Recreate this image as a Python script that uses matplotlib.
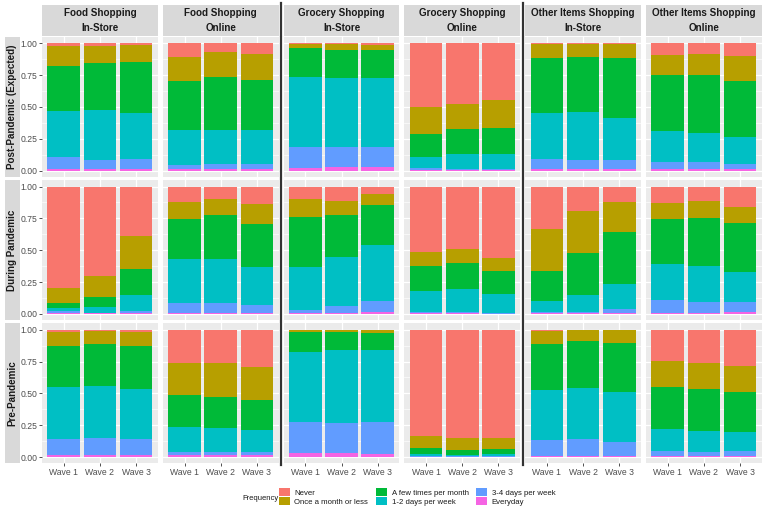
import matplotlib
matplotlib.use('Agg')
import matplotlib.pyplot as plt
from matplotlib.patches import Patch
from matplotlib.lines import Line2D
import numpy as np

plt.rcParams['font.family'] = ['Liberation Sans', 'DejaVu Sans']

# ---------------- data ----------------
waves = ['Wave 1', 'Wave 2', 'Wave 3']
# stacking order, bottom -> top
frequencies = ['Everyday', '3-4 days per week', '1-2 days per week',
               'A few times per month', 'Once a month or less', 'Never']
freq_colors = ['#F564E3', '#619CFF', '#00BFC4', '#00BA38', '#B79F00', '#F8766D']
legend_order = ['Never', 'Once a month or less', 'A few times per month',
                '1-2 days per week', '3-4 days per week', 'Everyday']

col_titles = ['Food Shopping\nIn-Store', 'Food Shopping\nOnline',
              'Grocery Shopping\nIn-Store', 'Grocery Shopping\nOnline',
              'Other Items Shopping\nIn-Store', 'Other Items Shopping\nOnline']
row_titles = ['Post-Pandemic (Expected)', 'During Pandemic', 'Pre-Pandemic']
y_ticks = [0.0, 0.25, 0.5, 0.75, 1.0]
y_tick_labels = ['0.00', '0.25', '0.50', '0.75', '1.00']

# shares per wave, in stacking order (Everyday ... Never)
post_food_instore = [[0.013, 0.095, 0.358, 0.355, 0.158, 0.021],
                     [0.013, 0.074, 0.387, 0.371, 0.134, 0.021],
                     [0.015, 0.080, 0.360, 0.398, 0.137, 0.010]]
post_food_online = [[0.010, 0.037, 0.269, 0.389, 0.187, 0.108],
                    [0.010, 0.040, 0.271, 0.416, 0.192, 0.071],
                    [0.010, 0.040, 0.271, 0.392, 0.200, 0.087]]
post_grocery_instore = [[0.021, 0.166, 0.547, 0.229, 0.032, 0.005],
                        [0.029, 0.158, 0.542, 0.221, 0.045, 0.005],
                        [0.029, 0.158, 0.542, 0.221, 0.040, 0.010]]
post_grocery_online = [[0.005, 0.013, 0.092, 0.179, 0.211, 0.500],
                       [0.005, 0.011, 0.113, 0.200, 0.197, 0.474],
                       [0.005, 0.011, 0.113, 0.205, 0.219, 0.447]]
post_other_instore = [[0.016, 0.076, 0.358, 0.432, 0.113, 0.005],
                      [0.016, 0.068, 0.379, 0.426, 0.106, 0.005],
                      [0.016, 0.066, 0.334, 0.466, 0.113, 0.005]]
post_other_online = [[0.013, 0.058, 0.240, 0.442, 0.158, 0.089],
                     [0.013, 0.055, 0.227, 0.458, 0.160, 0.087],
                     [0.013, 0.037, 0.213, 0.442, 0.195, 0.100]]

during_food_instore = [[0.010, 0.010, 0.028, 0.037, 0.121, 0.794],
                       [0.005, 0.005, 0.046, 0.079, 0.159, 0.706],
                       [0.010, 0.016, 0.125, 0.201, 0.262, 0.386]]
during_food_online = [[0.005, 0.082, 0.342, 0.320, 0.129, 0.122],
                      [0.005, 0.082, 0.344, 0.349, 0.125, 0.095],
                      [0.008, 0.063, 0.294, 0.344, 0.151, 0.140]]
during_grocery_instore = [[0.005, 0.029, 0.336, 0.392, 0.137, 0.101],
                          [0.005, 0.058, 0.381, 0.334, 0.106, 0.116],
                          [0.016, 0.082, 0.442, 0.312, 0.090, 0.058]]
during_grocery_online = [[0.003, 0.010, 0.164, 0.201, 0.111, 0.511],
                         [0.003, 0.010, 0.185, 0.199, 0.116, 0.487],
                         [0.002, 0.003, 0.151, 0.180, 0.106, 0.558]]
during_other_instore = [[0.003, 0.008, 0.092, 0.233, 0.331, 0.333],
                        [0.005, 0.011, 0.132, 0.331, 0.331, 0.190],
                        [0.005, 0.035, 0.198, 0.405, 0.235, 0.122]]
during_other_online = [[0.008, 0.103, 0.278, 0.360, 0.121, 0.130],
                       [0.008, 0.087, 0.278, 0.378, 0.133, 0.116],
                       [0.011, 0.079, 0.235, 0.392, 0.124, 0.159]]

pre_food_instore = [[0.019, 0.124, 0.407, 0.323, 0.111, 0.016],
                    [0.013, 0.138, 0.410, 0.331, 0.095, 0.013],
                    [0.013, 0.130, 0.389, 0.341, 0.111, 0.016]]
pre_food_online = [[0.013, 0.027, 0.195, 0.254, 0.252, 0.259],
                   [0.013, 0.027, 0.188, 0.246, 0.264, 0.262],
                   [0.013, 0.027, 0.172, 0.235, 0.262, 0.291]]
pre_grocery_instore = [[0.029, 0.249, 0.545, 0.161, 0.013, 0.003],
                       [0.029, 0.241, 0.569, 0.140, 0.018, 0.003],
                       [0.024, 0.251, 0.564, 0.137, 0.019, 0.005]]
pre_grocery_online = [[0.003, 0.008, 0.013, 0.050, 0.093, 0.833],
                      [0.003, 0.008, 0.008, 0.039, 0.090, 0.852],
                      [0.003, 0.008, 0.013, 0.039, 0.090, 0.847]]
pre_other_instore = [[0.005, 0.130, 0.389, 0.365, 0.103, 0.008],
                     [0.005, 0.133, 0.404, 0.371, 0.084, 0.003],
                     [0.005, 0.117, 0.389, 0.386, 0.100, 0.003]]
pre_other_online = [[0.008, 0.042, 0.167, 0.333, 0.204, 0.246],
                    [0.008, 0.032, 0.161, 0.333, 0.207, 0.259],
                    [0.010, 0.038, 0.145, 0.318, 0.206, 0.283]]

grid_data = [
    [post_food_instore, post_food_online, post_grocery_instore,
     post_grocery_online, post_other_instore, post_other_online],
    [during_food_instore, during_food_online, during_grocery_instore,
     during_grocery_online, during_other_instore, during_other_online],
    [pre_food_instore, pre_food_online, pre_grocery_instore,
     pre_grocery_online, pre_other_instore, pre_other_online],
]

# ---------------- layout ----------------
W, H = 767, 518
fig = plt.figure(figsize=(W / 100, H / 100), dpi=100)
fig.patch.set_facecolor('white')


def rect(x, y, w, h):
    return [x / W, 1 - (y + h) / H, w / W, h / H]


panel_left0, panel_w, col_step = 42.0, 115.8, 120.8
panel_top0, panel_h, row_step = 37.0, 140.0, 143.2
strip_top, strip_h = 5.0, 31.0
rstrip_left, rstrip_w = 5.0, 15.0

PANEL_BG = '#EBEBEB'
STRIP_BG = '#D9D9D9'
TXT = '#1A1A1A'
AXTXT = '#4D4D4D'

for r in range(3):
    for c in range(6):
        x0 = panel_left0 + c * col_step
        y0 = panel_top0 + r * row_step
        ax = fig.add_axes(rect(x0, y0, panel_w, panel_h))
        ax.set_facecolor(PANEL_BG)
        for s in ax.spines.values():
            s.set_visible(False)
        ax.set_xlim(0.4, 3.6)
        ax.set_ylim(-0.05, 1.05)
        # grid
        for yv in [0.125, 0.375, 0.625, 0.875]:
            ax.axhline(yv, color='white', lw=0.45, zorder=0.5)
        for yv in y_ticks:
            ax.axhline(yv, color='white', lw=0.9, zorder=0.6)
        for xv in [1, 2, 3]:
            ax.axvline(xv, color='white', lw=0.9, zorder=0.6)
        vals = np.array(grid_data[r][c])
        xpos = np.arange(1, len(waves) + 1)
        bottom = np.zeros(len(waves))
        for k, f in enumerate(frequencies):
            ax.bar(xpos, vals[:, k], bottom=bottom, width=0.9,
                   color=freq_colors[k], edgecolor='none', zorder=2)
            bottom = bottom + vals[:, k]
        ax.set_xticks(xpos)
        ax.set_yticks(y_ticks)
        ax.tick_params(axis='both', length=2.0, width=0.6, color='#333333',
                       labelsize=6.2, labelcolor=AXTXT, pad=1.5)
        if r == 2:
            ax.set_xticklabels(waves)
        else:
            ax.set_xticklabels([])
            ax.tick_params(axis='x', length=0)
        if c == 0:
            ax.set_yticklabels(y_tick_labels)
        else:
            ax.set_yticklabels([])
            ax.tick_params(axis='y', length=0)

# column strips
for c in range(6):
    x0 = panel_left0 + c * col_step
    sax = fig.add_axes(rect(x0, strip_top, panel_w, strip_h))
    sax.set_facecolor(STRIP_BG)
    sax.set_xticks([]); sax.set_yticks([])
    for s in sax.spines.values():
        s.set_visible(False)
    sax.text(0.5, 0.5, col_titles[c], ha='center', va='center',
             fontsize=7.1, fontweight='bold', color=TXT, linespacing=1.55,
             transform=sax.transAxes)

# row strips
for r in range(3):
    y0 = panel_top0 + r * row_step
    sax = fig.add_axes(rect(rstrip_left, y0, rstrip_w, panel_h))
    sax.set_facecolor(STRIP_BG)
    sax.set_xticks([]); sax.set_yticks([])
    for s in sax.spines.values():
        s.set_visible(False)
    sax.text(0.5, 0.5, row_titles[r], ha='center', va='center', rotation=90,
             fontsize=7.1, fontweight='bold', color=TXT, transform=sax.transAxes)

# thick separators
for xs in [281.2, 522.8]:
    fig.add_artist(Line2D([xs / W, xs / W], [1 - 3 / H, 1 - 465 / H],
                          transform=fig.transFigure, color='#333333', lw=1.6))

# legend
handles = [Patch(facecolor=freq_colors[frequencies.index(f)], edgecolor='none')
           for f in legend_order]
fig.legend(handles, legend_order, loc='upper left',
           bbox_to_anchor=(279 / W, 1 - 487.5 / H), ncol=3, frameon=False,
           fontsize=5.6, handlelength=1.37, handleheight=1.37, handletextpad=0.62,
           columnspacing=1.0, labelspacing=0.0, borderpad=0, borderaxespad=0,
           labelcolor=TXT)
fig.text(242 / W, 1 - 498.5 / H, 'Frequency', fontsize=5.5, color=TXT,
         ha='left', va='center')

fig.savefig('out.png', dpi=100)
